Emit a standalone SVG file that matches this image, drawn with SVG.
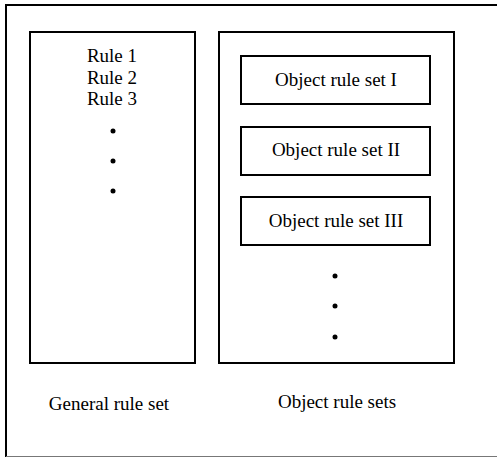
<svg xmlns="http://www.w3.org/2000/svg" width="497" height="457" viewBox="0 0 497 457">
  <style>
    .box { fill: #fff; stroke: #000; stroke-width: 2; }
    .frame { stroke: #000; stroke-width: 2; fill: none; }
    .lbl { font-family: "Liberation Serif", "Times New Roman", serif; font-size: 19px; fill: #000; text-anchor: middle; }
    .dot { fill: #000; }
  </style>
  <rect width="497" height="457" fill="#fff"/>
  <!-- outer frame -->
  <g id="frame">
    <path class="frame" d="M6,457 V5 H497"/>
    <line x1="6" y1="456.5" x2="497" y2="456.5" stroke="#777" stroke-width="1"/>
  </g>
  <!-- general rule set -->
  <g id="general-rule-set">
    <rect class="box" x="30" y="32" width="165" height="331"/>
    <text class="lbl" x="112" y="62">Rule 1</text>
    <text class="lbl" x="112" y="84">Rule 2</text>
    <text class="lbl" x="112" y="105">Rule 3</text>
    <circle class="dot" cx="113" cy="131" r="2.5"/>
    <circle class="dot" cx="113" cy="161" r="2.5"/>
    <circle class="dot" cx="113" cy="191" r="2.5"/>
    <text class="lbl" x="109" y="410">General rule set</text>
  </g>
  <!-- object rule sets -->
  <g id="object-rule-sets">
    <rect class="box" x="219" y="32" width="235" height="331"/>
    <circle class="dot" cx="335" cy="276" r="2.5"/>
    <circle class="dot" cx="335" cy="306" r="2.5"/>
    <circle class="dot" cx="335" cy="337" r="2.5"/>
    <text class="lbl" x="337" y="408">Object rule sets</text>
  </g>
  <g id="object-rule-set-1">
    <rect class="box" x="241" y="56" width="189" height="48"/>
    <text class="lbl" x="336" y="86">Object rule set I</text>
  </g>
  <g id="object-rule-set-2">
    <rect class="box" x="241" y="127" width="189" height="48"/>
    <text class="lbl" x="336" y="156">Object rule set II</text>
  </g>
  <g id="object-rule-set-3">
    <rect class="box" x="241" y="197" width="189" height="48"/>
    <text class="lbl" x="336" y="227">Object rule set III</text>
  </g>
  <g id="connectors"/>
</svg>
